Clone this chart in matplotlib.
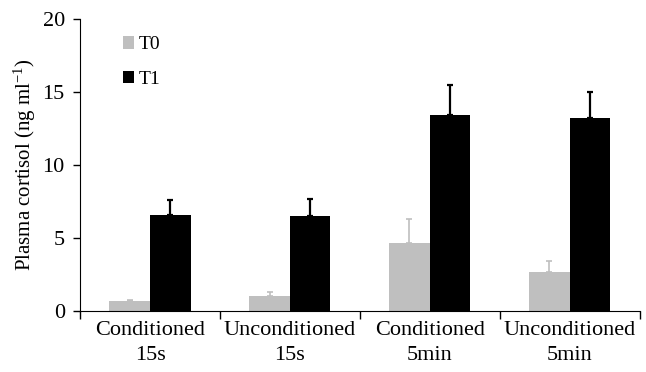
import matplotlib
matplotlib.use('Agg')
import matplotlib.pyplot as plt
import numpy as np

categories = ['Conditioned\n15s', 'Unconditioned\n15s', 'Conditioned\n5min', 'Unconditioned\n5min']
t0 = [0.7, 1.03, 4.68, 2.67]
t0_err = [0.05, 0.27, 1.62, 0.75]
t1 = [6.57, 6.5, 13.45, 13.2]
t1_err = [1.03, 1.15, 2.05, 1.8]

plt.rcParams['font.family'] = 'Liberation Serif'
plt.rcParams['mathtext.fontset'] = 'custom'
plt.rcParams['mathtext.rm'] = 'Liberation Serif'

fig = plt.figure(figsize=(6.46, 3.72), dpi=100)
ax = fig.add_axes([0.124, 0.164, 0.866, 0.785])

x = np.arange(len(categories))
w = 0.29
ax.bar(x - w / 2, t0, w, color='#bfbfbf', label='T0', edgecolor='none')
ax.errorbar(x - w / 2, t0, yerr=[np.zeros(4), t0_err], fmt='none', ecolor='#bfbfbf',
            elinewidth=1.2, capsize=2.5, capthick=1.2)
ax.bar(x + w / 2, t1, w, color='black', label='T1', edgecolor='none')
ax.errorbar(x + w / 2, t1, yerr=[np.zeros(4), t1_err], fmt='none', ecolor='black',
            elinewidth=1.6, capsize=2.5, capthick=1.6)

ax.set_xlim(-0.5, 3.5)
ax.set_ylim(0, 20)
ax.set_yticks([0, 5, 10, 15, 20])
ax.set_xticks(np.arange(-0.5, 4.0, 1.0))
ax.set_xticks(x, minor=True)
ax.set_xticklabels([])
ax.set_xticklabels(categories, minor=True)
ax.tick_params(axis='x', which='minor', length=0, labelsize=16, pad=7)
ax.tick_params(axis='x', which='major', length=6, width=1)
ax.tick_params(axis='y', labelsize=16, length=5, width=1, pad=6)
for lbl in ax.get_xticklabels(minor=True):
    lbl.set_linespacing(1.45)
ax.spines['top'].set_visible(False)
ax.spines['right'].set_visible(False)
ax.set_ylabel('Plasma cortisol (ng ml$\\mathregular{^{-1}}$)', fontsize=15, labelpad=3)

ax.legend(loc='upper left', bbox_to_anchor=(0.045, 1.0), frameon=False, fontsize=14,
          handlelength=0.6, handleheight=0.6, handletextpad=0.2, labelspacing=0.9)

fig.savefig('out.png', dpi=100)
